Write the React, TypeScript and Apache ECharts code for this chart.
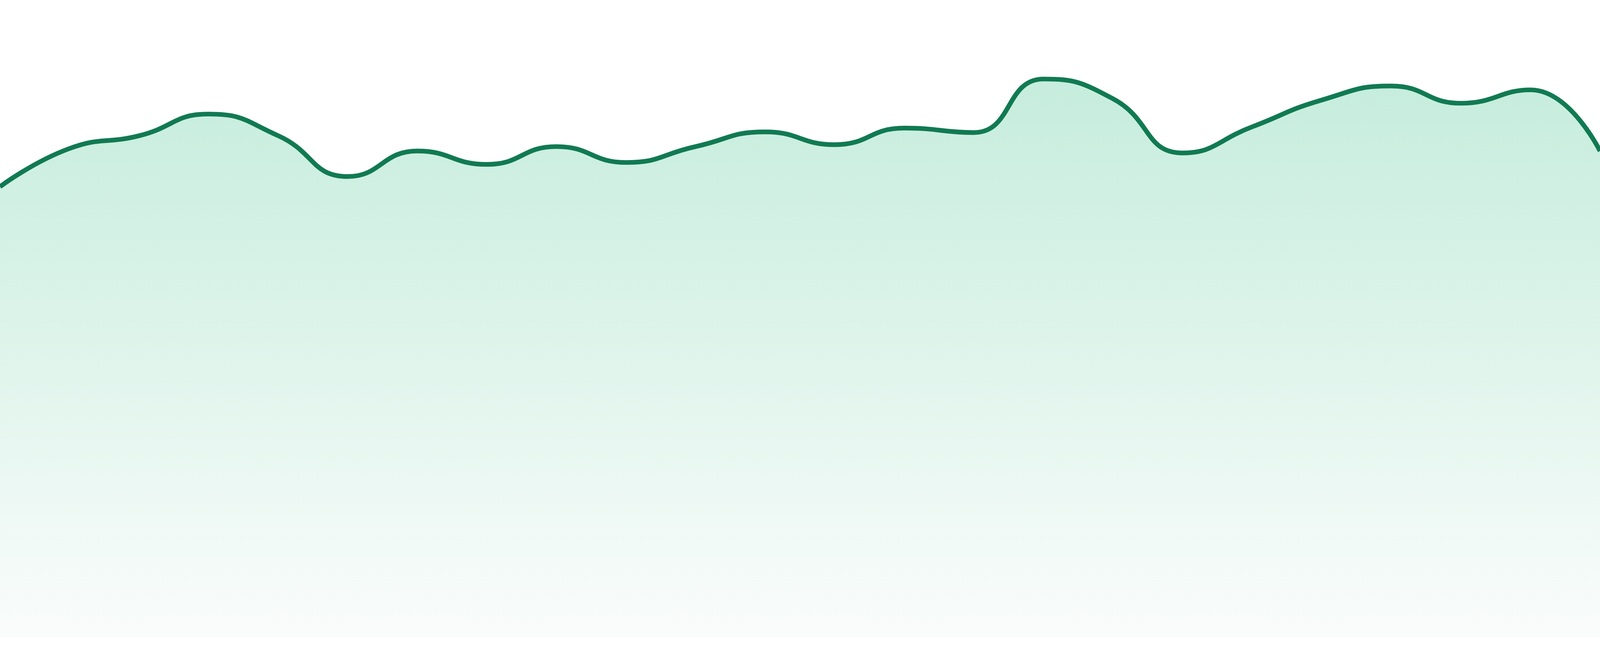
import React, { useEffect, useRef } from 'react';
import * as echarts from 'echarts';

// 24 data points, no axes shown
const categories = [
  'P1', 'P2', 'P3', 'P4', 'P5', 'P6', 'P7', 'P8', 'P9', 'P10', 'P11', 'P12',
  'P13', 'P14', 'P15', 'P16', 'P17', 'P18', 'P19', 'P20', 'P21', 'P22', 'P23', 'P24',
];
const values = [
  70.7, 76.7, 78.7, 82.1, 78.7, 72.3, 76.3, 74.2, 77.0, 74.5, 77.0, 79.3,
  77.3, 79.9, 79.2, 87.6, 84.5, 76.0, 80.1, 84.3, 86.5, 83.8, 85.9, 76.3,
];
const yMin = 0;
const yMax = 100;

const App: React.FC = () => {
  const chartRef = useRef<HTMLDivElement>(null);

  useEffect(() => {
    if (!chartRef.current) return;

    const chartInstance = echarts.init(chartRef.current, undefined, { renderer: 'svg' });
    // line width scales with the chart width (14px at 4800px)
    const w = chartRef.current.clientWidth || 4800;
    const lineWidth = (14 * w) / 4800;

    const option = {
      animation: false,
      grid: {
        left: 0,
        right: 0,
        top: 0,
        bottom: '2.86%',
      },
      xAxis: {
        type: 'category',
        data: categories,
        boundaryGap: false,
        show: false,
      },
      yAxis: {
        type: 'value',
        min: yMin,
        max: yMax,
        show: false,
      },
      series: [
        {
          type: 'line',
          data: values,
          smooth: 0.5,
          symbol: 'none',
          lineStyle: {
            color: '#117a52',
            width: lineWidth,
          },
          areaStyle: {
            color: new echarts.graphic.LinearGradient(0, 0, 0, 1, [
              { offset: 0, color: '#ade5ce' },
              { offset: 1, color: '#f8fbfa' },
            ]),
          },
        },
      ],
    };

    chartInstance.setOption(option);

    const handleResize = () => {
      chartInstance.resize();
    };
    window.addEventListener('resize', handleResize);

    return () => {
      window.removeEventListener('resize', handleResize);
      chartInstance.dispose();
    };
  }, []);

  return (
    <div
      ref={chartRef}
      style={{ position: 'fixed', left: 0, top: 0, width: '100vw', height: '100vh', background: '#fff' }}
    />
  );
};

export default App;
